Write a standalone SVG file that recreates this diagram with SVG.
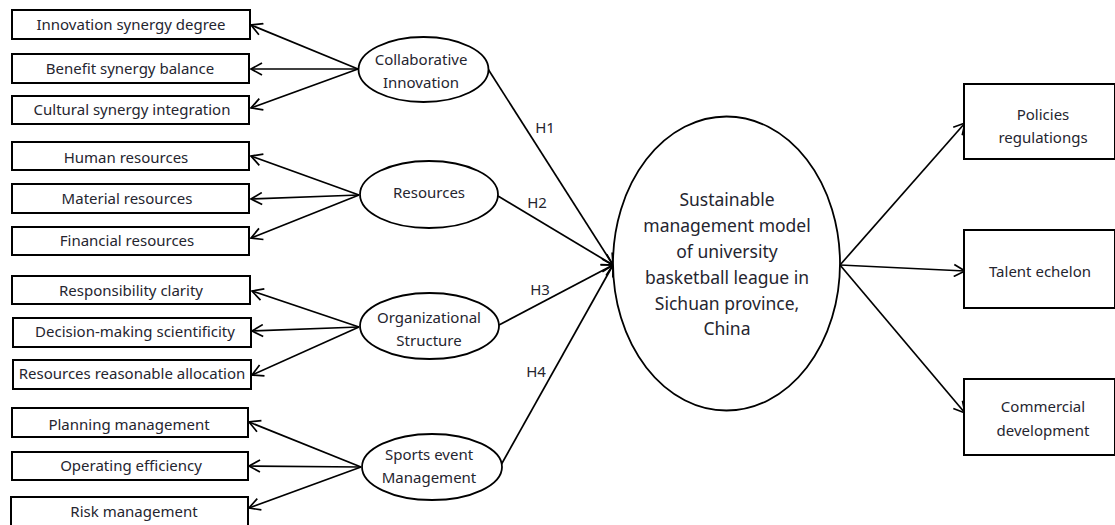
<svg xmlns="http://www.w3.org/2000/svg" width="1115" height="525" viewBox="0 0 1115 525">
<style>
  .box{fill:#fff;stroke:#000;stroke-width:2}
  .ell{fill:#fff;stroke:#000;stroke-width:1.8}
  .t{font-family:"Noto Sans","Open Sans","Liberation Sans",sans-serif;font-size:15px;fill:#25252f;text-anchor:middle}
  .big{font-size:17.5px}
  .c{stroke:#000;stroke-width:1.7;fill:none;marker-end:url(#ah)}
</style>
<defs>
  <marker id="ah" markerUnits="userSpaceOnUse" markerWidth="14" markerHeight="14" refX="12" refY="7" orient="auto">
    <path d="M1,1 L12,7 L1,13" fill="none" stroke="#000" stroke-width="1.7"/>
  </marker>
</defs>
<rect width="1115" height="525" fill="#fff"/>
<g id="connectors">
  <line class="c" x1="358" y1="69" x2="251" y2="25"/>
  <line class="c" x1="358" y1="69" x2="251" y2="69"/>
  <line class="c" x1="358" y1="69" x2="251" y2="108"/>
  <line class="c" x1="359" y1="195" x2="251" y2="156"/>
  <line class="c" x1="359" y1="195" x2="251" y2="199"/>
  <line class="c" x1="359" y1="195" x2="251" y2="238"/>
  <line class="c" x1="359" y1="327" x2="252" y2="291"/>
  <line class="c" x1="359" y1="327" x2="252" y2="331"/>
  <line class="c" x1="359" y1="327" x2="252" y2="375"/>
  <line class="c" x1="361" y1="467" x2="249" y2="422"/>
  <line class="c" x1="361" y1="467" x2="249" y2="466"/>
  <line class="c" x1="361" y1="467" x2="249" y2="508"/>
  <line class="c" x1="488" y1="69" x2="613" y2="265"/>
  <line class="c" x1="498" y1="196" x2="613" y2="265"/>
  <line class="c" x1="499" y1="325" x2="613" y2="265"/>
  <line class="c" x1="501" y1="465" x2="613" y2="265"/>
  <line class="c" x1="840" y1="265" x2="965" y2="123"/>
  <line class="c" x1="840" y1="265" x2="965" y2="271"/>
  <line class="c" x1="840" y1="265" x2="965" y2="413"/>
  <text class="t" x="545" y="133">H1</text>
  <text class="t" x="537" y="208">H2</text>
  <text class="t" x="540" y="295">H3</text>
  <text class="t" x="536" y="377">H4</text>
</g>
<g id="n-isd"><rect class="box" x="12" y="10" width="238" height="29"/><text class="t" x="131" y="30">Innovation synergy degree</text></g>
<g id="n-bsb"><rect class="box" x="12" y="54" width="237" height="29"/><text class="t" x="130" y="74">Benefit synergy balance</text></g>
<g id="n-csi"><rect class="box" x="12" y="96" width="237" height="28"/><text class="t" x="132" y="115">Cultural synergy integration</text></g>
<g id="n-hr"><rect class="box" x="12" y="142" width="237" height="28"/><text class="t" x="126" y="163">Human resources</text></g>
<g id="n-mr"><rect class="box" x="12" y="184" width="237" height="29"/><text class="t" x="127" y="204">Material resources</text></g>
<g id="n-fr"><rect class="box" x="12" y="227" width="237" height="28"/><text class="t" x="127" y="246">Financial resources</text></g>
<g id="n-rc"><rect class="box" x="12" y="276" width="238" height="28"/><text class="t" x="131" y="296">Responsibility clarity</text></g>
<g id="n-dms"><rect class="box" x="13" y="318" width="238" height="29"/><text class="t" x="135" y="337">Decision-making scientificity</text></g>
<g id="n-rra"><rect class="box" x="13" y="360" width="238" height="29"/><text class="t" x="132" y="379">Resources reasonable allocation</text></g>
<g id="n-pm"><rect class="box" x="12" y="408" width="236" height="29"/><text class="t" x="129" y="430">Planning management</text></g>
<g id="n-oe"><rect class="box" x="12" y="452" width="236" height="28"/><text class="t" x="131" y="471">Operating efficiency</text></g>
<g id="n-rm"><rect class="box" x="11" y="497" width="237" height="30"/><text class="t" x="134" y="517">Risk management</text></g>
<g id="n-ci"><ellipse class="ell" cx="423.5" cy="69.5" rx="65" ry="32.5"/><text class="t" x="421" y="65">Collaborative</text><text class="t" x="421" y="88">Innovation</text></g>
<g id="n-res"><ellipse class="ell" cx="429" cy="194.5" rx="69" ry="33.5"/><text class="t" x="429" y="198">Resources</text></g>
<g id="n-os"><ellipse class="ell" cx="429.5" cy="326" rx="69.5" ry="33"/><text class="t" x="429" y="323">Organizational</text><text class="t" x="429" y="346">Structure</text></g>
<g id="n-sem"><ellipse class="ell" cx="432" cy="467" rx="70" ry="33"/><text class="t" x="429" y="460">Sports event</text><text class="t" x="429" y="483">Management</text></g>
<g id="n-center"><ellipse class="ell" cx="726.5" cy="263.5" rx="113.5" ry="147"/>
  <text class="t big" x="727" y="206">Sustainable</text>
  <text class="t big" x="727" y="232">management model</text>
  <text class="t big" x="727" y="258">of university</text>
  <text class="t big" x="727" y="284">basketball league in</text>
  <text class="t big" x="727" y="310">Sichuan province,</text>
  <text class="t big" x="727" y="335">China</text>
</g>
<g id="n-pr"><rect class="box" x="964" y="84" width="151" height="75"/><text class="t" x="1043" y="120">Policies</text><text class="t" x="1043" y="143">regulationgs</text></g>
<g id="n-te"><rect class="box" x="964" y="230" width="151" height="78"/><text class="t" x="1040" y="277">Talent echelon</text></g>
<g id="n-cd"><rect class="box" x="964" y="379" width="151" height="76"/><text class="t" x="1043" y="412">Commercial</text><text class="t" x="1043" y="436">development</text></g>
</svg>
